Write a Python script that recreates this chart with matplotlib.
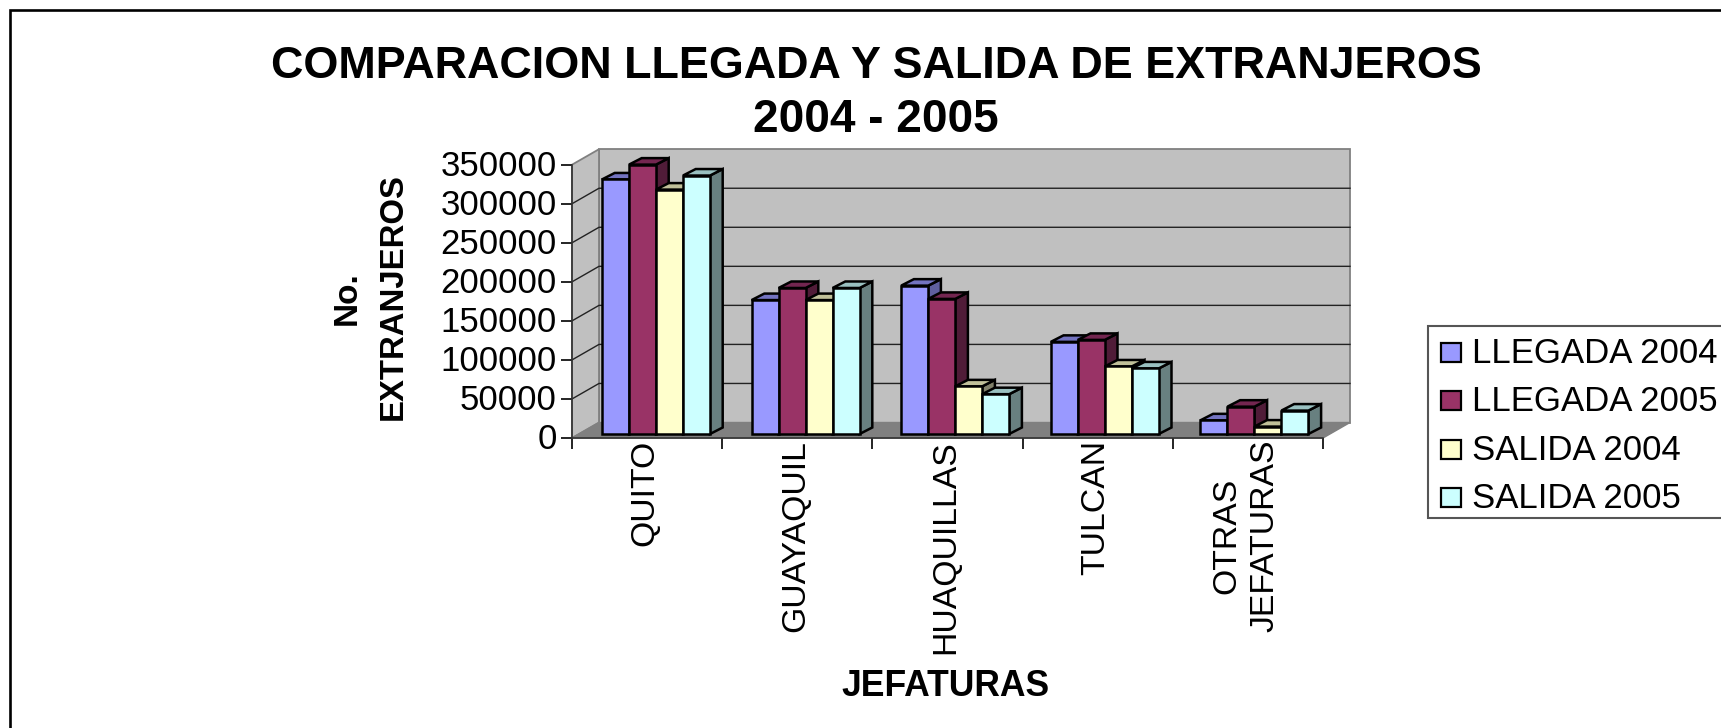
import matplotlib
matplotlib.use("Agg")
import matplotlib.pyplot as plt
from matplotlib.patches import Rectangle
from matplotlib.transforms import ScaledTranslation

categories = ["QUITO", "GUAYAQUIL", "HUAQUILLAS", "TULCAN", "OTRAS\nJEFATURAS"]
llegada_2004 = [326000, 171500, 190000, 118000, 17500]
llegada_2005 = [345000, 187000, 173000, 120500, 35000]
salida_2004 = [313000, 171500, 61000, 86500, 9500]
salida_2005 = [331000, 187000, 51000, 84000, 30000]
series_names = ["LLEGADA 2004", "LLEGADA 2005", "SALIDA 2004", "SALIDA 2005"]
y_ticks = [0, 50000, 100000, 150000, 200000, 250000, 300000, 350000]

W, H = 1721, 728
plt.rcParams["font.family"] = ["Liberation Sans", "DejaVu Sans"]

face = ["#9999ff", "#993366", "#ffffcc", "#ccffff"]
top = ["#7373c0", "#732650", "#c0c099", "#99c0c0"]
side = ["#5f5f9f", "#501c38", "#80806a", "#688080"]

fig = plt.figure(figsize=(W / 100, H / 100), dpi=100, facecolor="white")

# outer frame of the chart
fig.add_artist(Rectangle((10 / W, -0.01), 1.1, (728 - 10) / 728 + 0.01, transform=fig.transFigure,
                         fc="none", ec="black", lw=1.9))

# front of the plot, in pixels
x0, x1, y0, y1 = 572, 1323, 438, 164.7
ax = fig.add_axes([x0 / W, (H - y0) / H, (x1 - x0) / W, (y0 - y1) / H])
ax.set_xlim(0, 5)
ax.set_ylim(0, 350000)
ax.patch.set_visible(False)

px_x = 5 / (x1 - x0)
px_y = 350000 / (y0 - y1)
wall_dx = 27 * px_x
wall_dy = 15.5 * px_y
bar_dx = 12.7 * px_x
bar_dy = 6.5 * px_y
base_dx = 7 * px_x
base_dy = 4 * px_y
bar_w = 27 * px_x
gap = 23 * px_x
step = 149.6 * px_x

# walls and floor
ax.fill([wall_dx, 5 + wall_dx, 5 + wall_dx, wall_dx],
        [wall_dy, wall_dy, 350000 + wall_dy, 350000 + wall_dy],
        fc="#c0c0c0", ec="#808080", lw=1.3, zorder=1, clip_on=False)
ax.fill([0, wall_dx, wall_dx, 0], [0, wall_dy, 350000 + wall_dy, 350000],
        fc="#c0c0c0", ec="#808080", lw=1.3, zorder=1, clip_on=False)
ax.fill([0, 5, 5 + wall_dx, wall_dx], [0, 0, wall_dy, wall_dy],
        fc="#808080", ec="#808080", lw=1, zorder=1.1, clip_on=False)

# gridlines
for t in y_ticks[1:-1]:
    ax.plot([0, wall_dx, 5 + wall_dx], [t, t + wall_dy, t + wall_dy],
            color="#222222", lw=1.0, zorder=1.2, clip_on=False)

# bars, drawn back to front so the neighbour covers the side face
all_series = [llegada_2004, llegada_2005, salida_2004, salida_2005]
for c in range(len(categories)):
    for s, vals in enumerate(all_series):
        v = vals[c]
        left = c * step + base_dx + gap + s * bar_w
        bot = base_dy
        right = left + bar_w
        zo = 3 + c + s * 0.1
        ax.fill([right, right + bar_dx, right + bar_dx, right],
                [bot, bot + bar_dy, bot + v + bar_dy, bot + v],
                fc=side[s], ec="black", lw=1.8, zorder=zo, clip_on=False)
        ax.fill([left, right, right + bar_dx, left + bar_dx],
                [bot + v, bot + v, bot + v + bar_dy, bot + v + bar_dy],
                fc=top[s], ec="black", lw=1.8, zorder=zo, clip_on=False)
        ax.bar(left, v, bar_w, bottom=bot, align="edge", color=face[s], ec="black", lw=1.8,
               zorder=zo + 0.01, clip_on=False)

# axes lines
for sp in ["top", "right"]:
    ax.spines[sp].set_visible(False)
for sp in ["left", "bottom"]:
    ax.spines[sp].set_linewidth(1.2)
    ax.spines[sp].set_color("#333333")
    ax.spines[sp].set_zorder(2)
ax.set_yticks(y_ticks)
ax.set_yticklabels([str(t) for t in y_ticks], fontsize=25)
ax.set_xticks(range(6))
ax.set_xticklabels([])
ax.tick_params(axis="y", length=8, width=1.2, pad=3)
ax.tick_params(axis="x", length=8, width=1.2)
for lab in ax.get_yticklabels():
    lab.set_transform(lab.get_transform() + ScaledTranslation(0, 2 / 100, fig.dpi_scale_trans))

for c, name in enumerate(categories):
    ax.annotate(name, (c + 0.5, 0), xytext=(-2, -2), textcoords="offset pixels", rotation=90,
                ha="center", va="top", fontsize=24.3, multialignment="center", linespacing=1.28,
                annotation_clip=False)

# titles
fig.text(876 / W, 1 - 67 / H, "COMPARACION LLEGADA Y SALIDA DE EXTRANJEROS",
         fontsize=32.3, fontweight="bold", ha="center", va="center")
fig.text(876 / W, 1 - 120 / H, "2004 - 2005", fontsize=33, fontweight="bold", ha="center", va="center")
fig.text(946 / W, 1 - 687 / H, "JEFATURAS", fontsize=25.6, fontweight="bold", ha="center", va="center")
fig.text(347 / W, 1 - 298 / H, "No.", fontsize=24, fontweight="bold", rotation=90, ha="center", va="center")
fig.text(393 / W, 1 - 297 / H, "EXTRANJEROS", fontsize=23.7, fontweight="bold", rotation=90, ha="center", va="center")

# legend
fig.add_artist(Rectangle((1428 / W, 1 - 518 / H), 0.3, 192 / H, transform=fig.transFigure,
                         fc="white", ec="#555555", lw=1.5))
for i, name in enumerate(series_names):
    yc = 352.5 + i * 48.3
    fig.add_artist(Rectangle((1441 / W, 1 - (yc + 9.5) / H), 20 / W, 19 / H, transform=fig.transFigure,
                             fc=face[i], ec="black", lw=1.6))
    fig.text(1472 / W, 1 - (yc + 1) / H, name, fontsize=25, ha="left", va="center")

fig.savefig("out.png", dpi=100)
